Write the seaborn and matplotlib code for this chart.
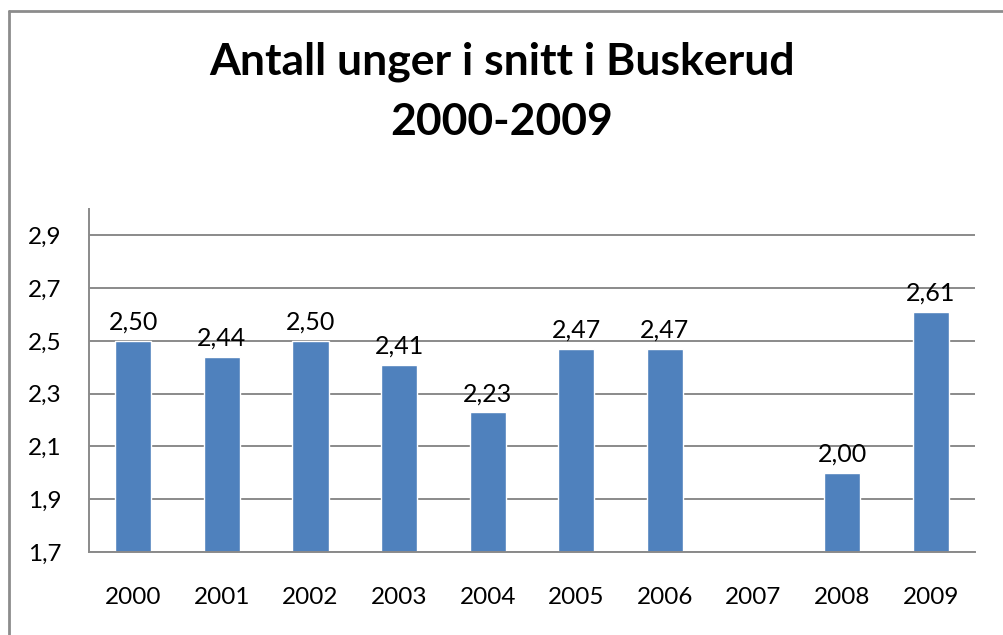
import numpy as np
import pandas as pd
import matplotlib
matplotlib.use("Agg")
import matplotlib.pyplot as plt
from matplotlib.lines import Line2D
from matplotlib.ticker import FuncFormatter
import seaborn as sns

years = ["2000", "2001", "2002", "2003", "2004", "2005", "2006", "2007", "2008", "2009"]
avg_kids = [2.50, 2.44, 2.50, 2.41, 2.23, 2.47, 2.47, np.nan, 2.00, 2.61]
y_ticks = [1.7, 1.9, 2.1, 2.3, 2.5, 2.7, 2.9]
title = "Antall unger i snitt i Buskerud\n2000-2009"

df = pd.DataFrame({"year": years, "avg": avg_kids})

sns.set_style("white")
plt.rcParams["font.family"] = ["Lato", "DejaVu Sans"]
plt.rcParams["text.color"] = "black"

fig = plt.figure(figsize=(10.04, 6.35), dpi=100)
ax = fig.add_axes([89 / 1004, 1 - 552 / 635, (975 - 89) / 1004, (552 - 209) / 635])

sns.barplot(data=df, x="year", y="avg", order=years, color="#4F81BD",
            saturation=1, width=0.41, ax=ax)

ax.set_ylim(1.7, 3.0)
ax.set_yticks(y_ticks)
ax.yaxis.set_major_formatter(FuncFormatter(lambda v, p: f"{v:.1f}".replace(".", ",")))
ax.grid(axis="y", color="#8a8a8a", linewidth=1.4)
ax.set_axisbelow(True)
ax.set_xlabel("")
ax.set_ylabel("")
for s in ["top", "right"]:
    ax.spines[s].set_visible(False)
for s in ["left", "bottom"]:
    ax.spines[s].set_color("#8a8a8a")
    ax.spines[s].set_linewidth(1.4)
ax.tick_params(axis="both", length=0, labelsize=17.5, colors="black")
ax.tick_params(axis="y", pad=20)
ax.tick_params(axis="x", pad=25)

def fmt(v):
    if np.isnan(v):
        return ""
    return f"{v:.2f}".replace(".", ",")

ax.bar_label(ax.containers[0], fmt=fmt, padding=5, fontsize=18, color="black")

fig.text(0.5, 1 - 92 / 635, title, ha="center", va="center", fontsize=32,
         fontweight="bold", linespacing=1.6, color="black")

# chart border (only top and left visible in the crop)
fig.add_artist(Line2D([9 / 1004, 9 / 1004], [0, 1 - 11 / 635], transform=fig.transFigure,
                      color="#8c8c8c", linewidth=2))
fig.add_artist(Line2D([9 / 1004, 1], [1 - 11 / 635, 1 - 11 / 635], transform=fig.transFigure,
                      color="#8c8c8c", linewidth=2))

fig.savefig("out.png", dpi=100)
